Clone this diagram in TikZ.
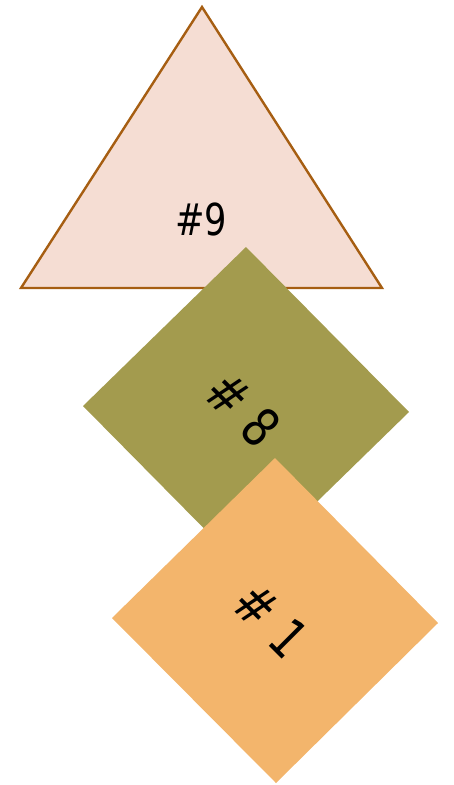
\documentclass[tikz,border=0pt]{standalone}
\usepackage{fontspec}
\setmainfont{DejaVu Sans}[FakeStretch=0.8]
\usetikzlibrary{calc}
\definecolor{triFill}{HTML}{F5DDD3}
\definecolor{triLine}{HTML}{A65E12}
\definecolor{oliveFill}{HTML}{A39B4E}
\definecolor{apricot}{HTML}{F3B56C}
\tikzset{
  tri/.style={
    fill=triFill,
    draw=triLine,
    line width=2.4pt,
    line join=miter
  },
  diamondeight/.style={
    fill=oliveFill
  },
  diamondone/.style={
    fill=apricot
  },
  flatlabel/.style={
    inner sep=0pt,
    font=\fontsize{44}{50}\selectfont
  },
  tiltlabel/.style={
    inner sep=0pt,
    rotate=-45,
    font=\fontsize{54}{60}\selectfont
  }
}
\begin{document}
\begin{tikzpicture}[x=1pt,y=-1pt]
            \useasboundingbox (0,0) rectangle (454,785);
            % triangle #9
            \coordinate (t) at (202,7);
            \coordinate (tl) at (21,288);
            \coordinate (tr) at (382,288);
            \draw[tri] (t)--(tl)--(tr)--cycle;
            \node[flatlabel] (n9) at (201,219) {\#9};
            % diamond #8
            \coordinate (c8) at (246,409);
            \fill[diamondeight] ($(c8)+(0,-162)$)--($(c8)+(-163,-3)$)
                --($(c8)+(0,162)$)--($(c8)+(163,3)$)--cycle;
            \node[tiltlabel] (n8) at ($(c8)+(-3,0)$) {\#\hspace{0.28em}8};
            % diamond #1
            \coordinate (c1) at (275,620);
            \fill[diamondone] ($(c1)+(0,-162)$)--($(c1)+(-163,-2)$)
                --($(c1)+(1,163)$)--($(c1)+(163,3)$)--cycle;
            \node[tiltlabel] (n1) at ($(c1)+(-4,0)$) {\#\hspace{0.28em}1};
        \end{tikzpicture}
\end{document}
